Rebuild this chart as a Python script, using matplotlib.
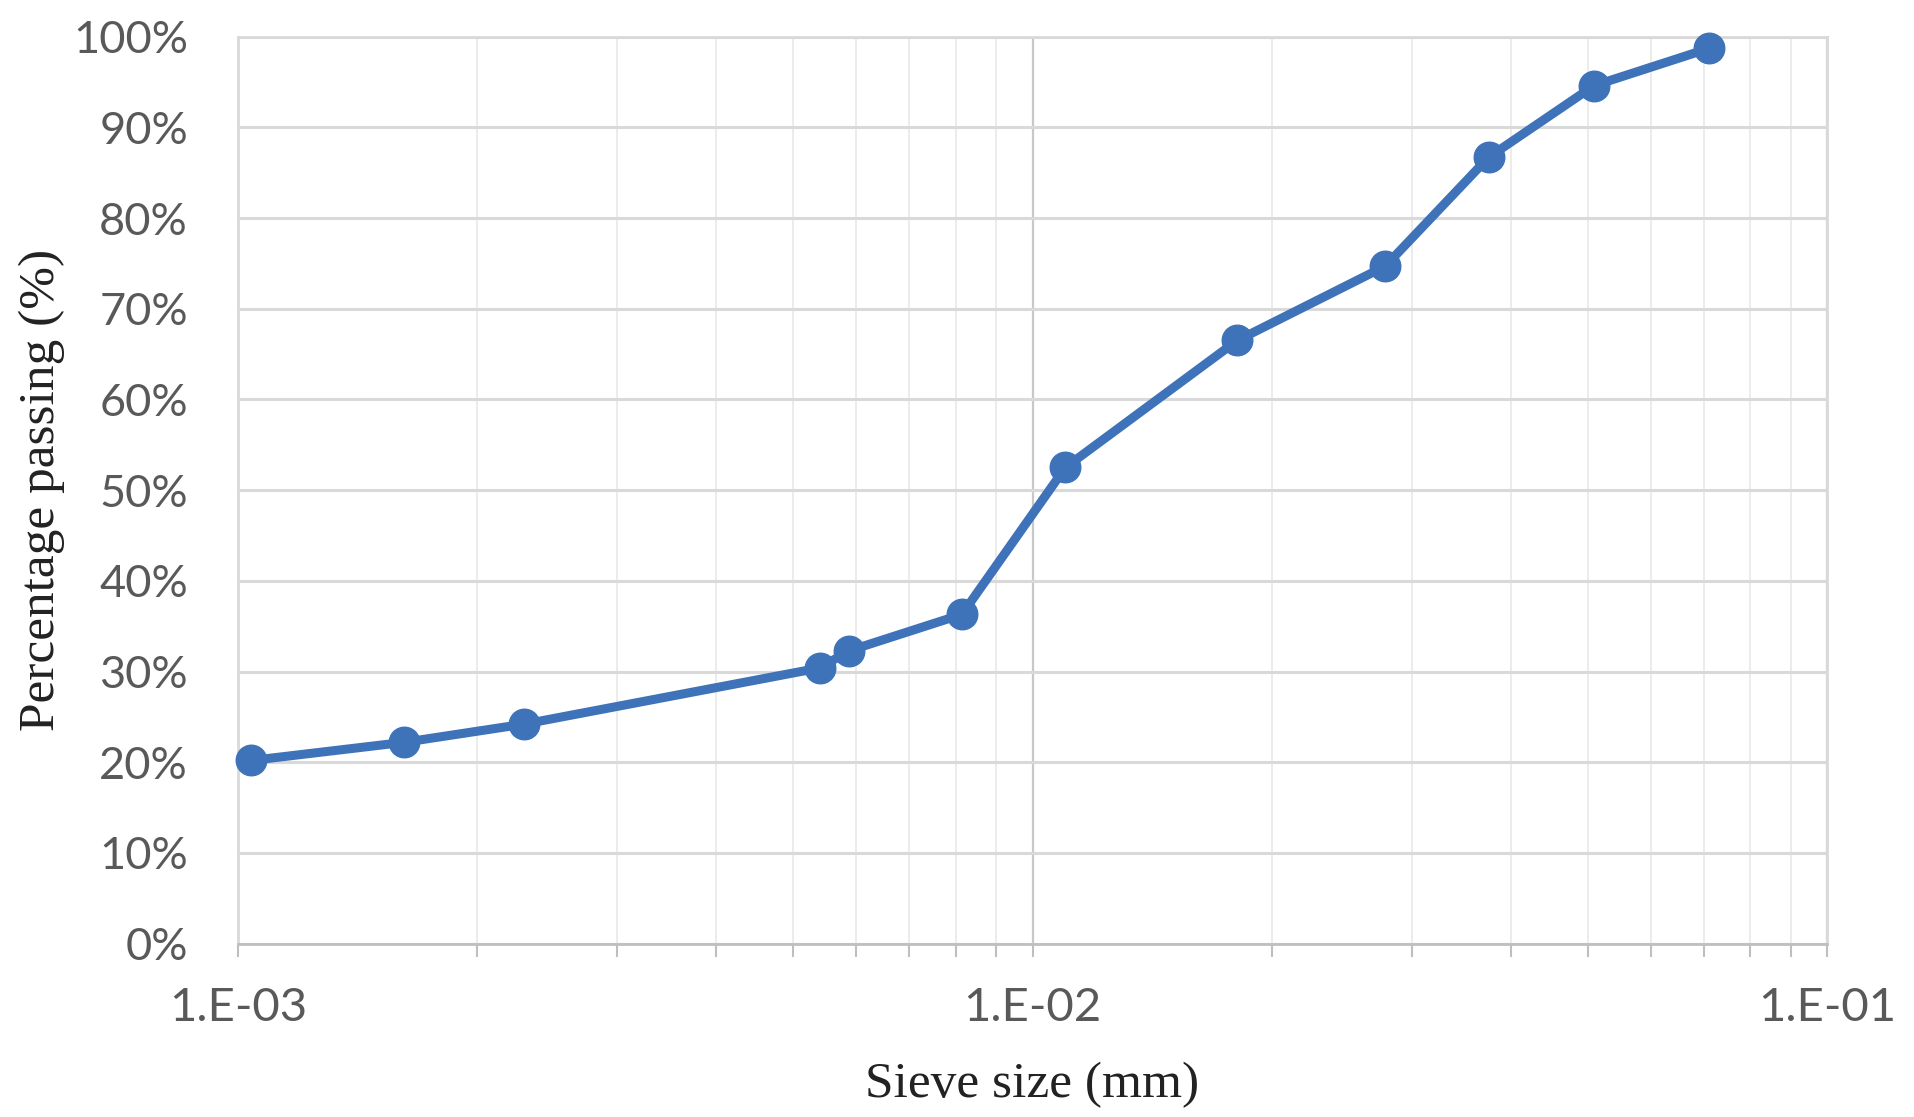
import math
import matplotlib
matplotlib.use("Agg")
import matplotlib.pyplot as plt
from matplotlib.ticker import FuncFormatter, PercentFormatter, LogLocator, NullFormatter

# sieve sizes (mm) and percentage passing
sieve_mm = [0.00104, 0.00162, 0.00229, 0.00540, 0.00588, 0.00815,
            0.0110, 0.0181, 0.0278, 0.0375, 0.0509, 0.0710]
passing = [20.2, 22.2, 24.2, 30.4, 32.3, 36.3,
           52.5, 66.5, 74.7, 86.7, 94.6, 98.7]

x_ticks = [1e-3, 1e-2, 1e-1]
y_ticks = [0, 10, 20, 30, 40, 50, 60, 70, 80, 90, 100]

blue = "#3e72b9"
grey_txt = "#595959"

fig = plt.figure(figsize=(19.14, 11.17), dpi=100)
ax = fig.add_axes([0.1243, 0.1552, 0.8303, 0.812])

ax.plot(sieve_mm, passing, color=blue, lw=6.5, marker="o", ms=22,
        markerfacecolor=blue, markeredgecolor=blue, zorder=3, clip_on=False)

ax.set_xscale("log")
ax.set_xlim(1e-3, 1e-1)
ax.set_ylim(0, 100)

ax.set_xticks(x_ticks)
ax.xaxis.set_major_formatter(FuncFormatter(lambda v, p: "1.E-%02d" % round(-math.log10(v))))
ax.xaxis.set_minor_locator(LogLocator(base=10, subs=range(2, 10)))
ax.xaxis.set_minor_formatter(NullFormatter())
ax.set_yticks(y_ticks)
ax.yaxis.set_major_formatter(PercentFormatter(100, decimals=0))

ax.grid(True, which="major", axis="y", color="#d9d9d9", lw=2.2)
ax.grid(True, which="major", axis="x", color="#c8c8c8", lw=1.6)
ax.grid(True, which="minor", axis="x", color="#ececec", lw=1.4)
ax.set_axisbelow(True)

for s in ["left", "top", "right"]:
    ax.spines[s].set_color("#d9d9d9")
    ax.spines[s].set_linewidth(2)
ax.spines["bottom"].set_color("#bfbfbf")
ax.spines["bottom"].set_linewidth(2)

ax.tick_params(axis="y", length=0, pad=36, labelsize=32.5, labelcolor=grey_txt)
ax.tick_params(axis="x", which="both", direction="out", length=9, width=1.5,
               color="#bfbfbf", pad=22, labelsize=34, labelcolor=grey_txt)
for lab in ax.get_xticklabels() + ax.get_yticklabels():
    lab.set_fontfamily("Lato")

ax.set_xlabel("Sieve size (mm)", fontfamily="Liberation Serif", fontsize=37,
              color="#222222", labelpad=24)
ax.set_ylabel("Percentage passing (%)", fontfamily="Liberation Serif", fontsize=37,
              color="#222222", labelpad=6)

fig.savefig("out.png", dpi=100, facecolor="white")
